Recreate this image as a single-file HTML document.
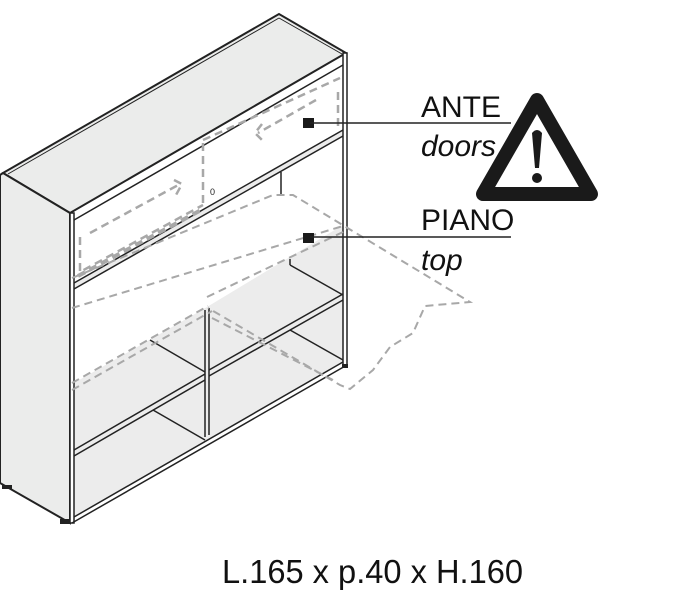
<!DOCTYPE html>
<html><head><meta charset="utf-8"><style>html,body{margin:0;padding:0;background:#fff}svg{display:block}</style></head>
<body>
<svg width="688" height="597" viewBox="0 0 688 597" xmlns="http://www.w3.org/2000/svg" font-family="Liberation Sans, sans-serif">
<!-- top face -->
<polygon points="3,173 279,14 346,53 70,213" fill="#ebeceb" stroke="#222" stroke-width="2"/>
<line x1="8" y1="174" x2="279" y2="18" stroke="#222" stroke-width="1"/>
<line x1="279" y1="18" x2="342" y2="54" stroke="#222" stroke-width="1"/>
<!-- left side -->
<polygon points="3,173 70,213 70,523 0,483 0,175" fill="#ebeceb" stroke="#222" stroke-width="2"/>
<!-- front interior -->
<polygon points="74,220 343,65 343,362 74,517" fill="#ececec"/>
<!-- door area white -->
<polygon points="74,220 343,65 343,130 74,283" fill="#fff"/>
<polygon points="74,289 343,136 343,225 207,307 74,383" fill="#fff"/>
<!-- posts -->
<rect x="70" y="213" width="4" height="310" fill="#fff" stroke="#222" stroke-width="1.5"/>
<rect x="343" y="53" width="4" height="312" fill="#fff" stroke="#222" stroke-width="1.5"/>
<g stroke="#222" stroke-width="1.5" fill="none">
<line x1="74" y1="220" x2="343" y2="65"/>
<line x1="74" y1="283" x2="343" y2="130"/>
<line x1="74" y1="289" x2="343" y2="136"/>
<line x1="74" y1="450" x2="205" y2="374"/>
<line x1="74" y1="456" x2="205" y2="380"/>
<line x1="209" y1="370" x2="343" y2="294"/>
<line x1="209" y1="376" x2="343" y2="300"/>
<line x1="74" y1="517" x2="343" y2="362"/>
<line x1="72" y1="523" x2="347" y2="365"/>
<line x1="205" y1="310" x2="205" y2="437"/>
<line x1="209" y1="308" x2="209" y2="435"/>
<line x1="150" y1="340" x2="205" y2="372"/>
<line x1="153" y1="410" x2="205" y2="440"/>
<line x1="290" y1="265" x2="343" y2="295"/>
<line x1="290" y1="330" x2="343" y2="360"/>
<line x1="281" y1="172" x2="281" y2="195"/>
<line x1="290" y1="259" x2="290" y2="265"/>
</g>
<text x="210" y="195" font-size="9" fill="#222">0</text>
<!-- feet -->
<rect x="2" y="485" width="10" height="4" fill="#222"/>
<rect x="60" y="519" width="10" height="5" fill="#222"/>
<rect x="342" y="364" width="6" height="4" fill="#222"/>
<!-- dashed door lines -->
<g stroke="#a8a8a8" stroke-width="2.5" fill="none" stroke-dasharray="8,5">
<polyline points="80,237 80,272 203,205"/>
<polyline points="78,276 203,209" stroke-width="4"/>
<line x1="203" y1="143" x2="203" y2="207"/>
<line x1="203" y1="140" x2="340" y2="78"/>
<polyline points="90,233 180,184"/>
<polyline points="174,180 182,184 176,195"/>
<polyline points="316,100 258,133"/>
<polyline points="262,124 255,133 262,140"/>
<line x1="338" y1="92" x2="338" y2="127"/>
</g>
<!-- piano -->
<g stroke="#a8a8a8" stroke-width="2" fill="none" stroke-dasharray="8,5">
<line x1="72" y1="308" x2="343" y2="226"/>
<line x1="207" y1="297" x2="343" y2="232"/>
<polyline points="72,278 273,195 293,195 470,302 425,306 413,333 390,347 373,370 350,389 340,385 208,308"/>
<line x1="72" y1="383" x2="208" y2="306"/>
<line x1="72" y1="390" x2="212" y2="311"/>
<line x1="212" y1="318" x2="333" y2="380"/>
</g>
<!-- leaders -->
<rect x="303" y="118" width="11" height="10" fill="#1a1a1a"/>
<rect x="303" y="233" width="11" height="10" fill="#1a1a1a"/>
<line x1="310" y1="123" x2="511" y2="123" stroke="#222" stroke-width="1.5"/>
<line x1="310" y1="237" x2="511" y2="237" stroke="#222" stroke-width="1.5"/>
<g fill="#111" font-size="30">
<text x="421" y="117">ANTE</text>
<text x="421" y="156" font-style="italic">doors</text>
<text x="421" y="230">PIANO</text>
<text x="421" y="270" font-style="italic">top</text>
</g>
<!-- warning -->
<polygon points="537,100 483,194 591,194" fill="none" stroke="#1a1a1a" stroke-width="14" stroke-linejoin="round"/>
<path d="M532,133 Q537,127 542,133 L539,168 L535,168 Z" fill="#1a1a1a"/>
<circle cx="537" cy="178" r="5" fill="#1a1a1a"/>
<text x="222" y="583" font-size="33" fill="#111" textLength="301" lengthAdjust="spacingAndGlyphs">L.165 x p.40 x H.160</text>
</svg>
</body></html>
